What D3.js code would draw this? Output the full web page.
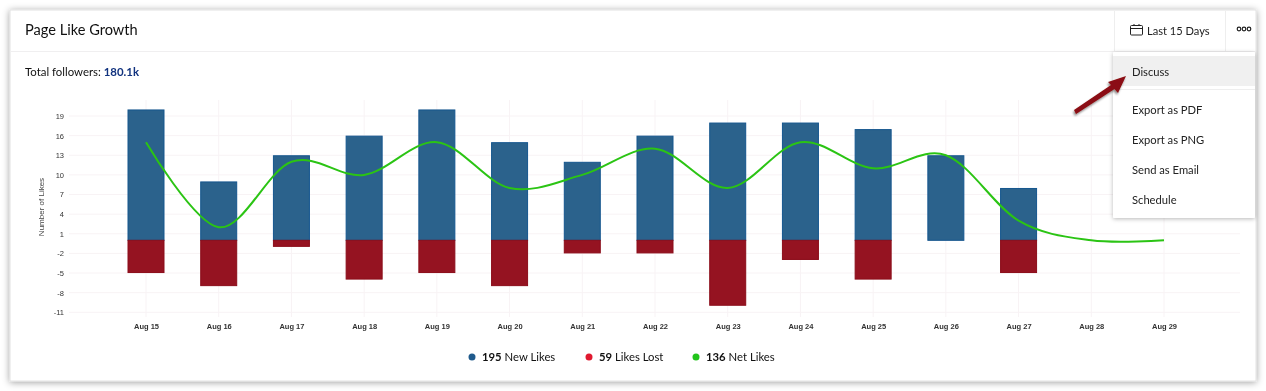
<!DOCTYPE html>
<html>
<head>
<meta charset="utf-8">
<script src="https://cdn.jsdelivr.net/npm/d3@7"></script>
<style>
  html, body { margin: 0; padding: 0; background: #fff; overflow: hidden; }
  svg { display: block; font-family: Lato, sans-serif; filter: blur(0.3px); }
  .y-axis text, .x-axis text { font-family: "Liberation Sans", Arial, sans-serif; fill: #333; }
  .x-axis text { font-weight: bold; }
</style>
</head>
<body>
<svg id="chart" width="1266" height="391"></svg>
<script>
// chart data
const days = ['Aug 15', 'Aug 16', 'Aug 17', 'Aug 18', 'Aug 19', 'Aug 20', 'Aug 21', 'Aug 22',
  'Aug 23', 'Aug 24', 'Aug 25', 'Aug 26', 'Aug 27', 'Aug 28', 'Aug 29'];
const newLikes = [20, 9, 13, 16, 20, 15, 12, 16, 18, 18, 17, 13, 8, 0, 0];
const likesLost = [5, 7, 1, 6, 5, 7, 2, 2, 10, 3, 6, 0, 5, 0, 0];
const netLikes = [15, 2, 12, 10, 15, 8, 10, 14, 8, 15, 11, 13, 3, 0, 0];
const yTicks = [19, 16, 13, 10, 7, 4, 1, -2, -5, -8, -11];
const legendItems = [
  { total: '195', label: 'New Likes', color: '#1f5a8c', x: 468 },
  { total: '59', label: 'Likes Lost', color: '#e0192f', x: 585 },
  { total: '136', label: 'Net Likes', color: '#22c41c', x: 692 }
];
const menuItems = ['Export as PDF', 'Export as PNG', 'Send as Email', 'Schedule'];

const svg = d3.select('#chart');
const defs = svg.append('defs');

// soft shadows for the card, menu and arrow
function addShadow(id, dx, dy, blur, opacity) {
  const f = defs.append('filter').attr('id', id)
    .attr('x', '-10%').attr('y', '-10%').attr('width', '120%').attr('height', '125%');
  f.append('feDropShadow').attr('dx', dx).attr('dy', dy)
    .attr('stdDeviation', blur).attr('flood-color', '#000').attr('flood-opacity', opacity);
}
addShadow('cardShadow', 0, 1, 3.5, 0.38);
addShadow('menuShadow', 0, 1, 2, 0.28);
addShadow('arrowShadow', -1, 2, 1.2, 0.45);

// card
svg.append('rect').attr('x', 10).attr('y', 10).attr('width', 1246).attr('height', 371)
  .attr('fill', '#fff').attr('stroke', '#e2e2e2').attr('filter', 'url(#cardShadow)');

// header
svg.append('line').attr('x1', 11).attr('x2', 1255).attr('y1', 51.5).attr('y2', 51.5).attr('stroke', '#f0eff0');
[1114.5, 1225.5].forEach(x => {
  svg.append('line').attr('x1', x).attr('x2', x).attr('y1', 11).attr('y2', 51).attr('stroke', '#eee');
});
svg.append('text').attr('x', 25).attr('y', 35).attr('font-size', 14.6).attr('fill', '#111').text('Page Like Growth');
svg.append('text').attr('x', 25).attr('y', 76).attr('font-size', 11.4).attr('fill', '#111')
  .text('Total followers: ')
  .append('tspan').attr('fill', '#12337f').attr('font-weight', 'bold').text('180.1k');

// scales
const x = d3.scalePoint().domain(days).range([146, 1164]);
const y = d3.scaleLinear().domain([19, -11]).range([116, 312.3]);
const barWidth = 37;

// grid
const grid = svg.append('g').attr('class', 'grid');
grid.selectAll('line.h').data(yTicks).enter().append('line').attr('class', 'h')
  .attr('x1', 69).attr('x2', 1240)
  .attr('y1', d => y(d)).attr('y2', d => y(d))
  .attr('stroke', '#f8f3f5');
grid.selectAll('line.v').data(days).enter().append('line').attr('class', 'v')
  .attr('x1', d => x(d)).attr('x2', d => x(d))
  .attr('y1', 100).attr('y2', 317)
  .attr('stroke', '#f8f3f5');

// axes
const yAxis = svg.append('g').attr('class', 'y-axis').attr('transform', 'translate(69,0)')
  .call(d3.axisLeft(y).tickValues(yTicks).tickFormat(String).tickSize(0).tickPadding(5));
yAxis.select('.domain').remove();
yAxis.selectAll('text').attr('font-size', 7.5);

const xAxis = svg.append('g').attr('class', 'x-axis').attr('transform', 'translate(0,317)')
  .call(d3.axisBottom(x).tickSize(0).tickPadding(7));
xAxis.select('.domain').remove();
xAxis.selectAll('text').attr('font-size', 7.5);

svg.append('text').attr('transform', 'translate(44,207) rotate(-90)')
  .attr('text-anchor', 'middle').attr('font-family', '"Liberation Sans", Arial, sans-serif')
  .attr('font-size', 8).attr('fill', '#444').text('Number of Likes');

// bars, stroke kept inside the value extent
svg.append('g').selectAll('rect').data(days.filter((d, i) => newLikes[i] > 0)).enter().append('rect')
  .attr('x', d => x(d) - barWidth / 2 + 0.5)
  .attr('width', barWidth - 1)
  .attr('y', d => y(newLikes[days.indexOf(d)]) + 0.5)
  .attr('height', d => y(0) - y(newLikes[days.indexOf(d)]) - 0.5)
  .attr('fill', '#2b628c').attr('stroke', '#15568e');

svg.append('g').selectAll('rect').data(days.filter((d, i) => likesLost[i] > 0)).enter().append('rect')
  .attr('x', d => x(d) - barWidth / 2 + 0.5)
  .attr('width', barWidth - 1)
  .attr('y', y(0))
  .attr('height', d => y(-likesLost[days.indexOf(d)]) - y(0) - 0.5)
  .attr('fill', '#951321').attr('stroke', '#8b0d1a');

// net likes line
const line = d3.line()
  .x((d, i) => x(days[i]))
  .y(d => y(d))
  .curve(d3.curveCardinal.tension(0));
svg.append('path').datum(netLikes)
  .attr('fill', 'none').attr('stroke', '#2bc414').attr('stroke-width', 2)
  .attr('d', line);

// legend
const legend = svg.append('g').selectAll('g').data(legendItems).enter().append('g')
  .attr('transform', d => `translate(${d.x},357)`);
legend.append('circle').attr('cx', 4).attr('r', 3.5).attr('fill', d => d.color);
const legendText = legend.append('text').attr('x', 14).attr('y', 4)
  .attr('font-size', 11.3).attr('fill', '#111');
legendText.append('tspan').attr('font-weight', 'bold').text(d => d.total);
legendText.append('tspan').text(d => ' ' + d.label);

// date range button
const cal = svg.append('g').attr('fill', 'none').attr('stroke', '#222').attr('stroke-width', 1);
cal.append('rect').attr('x', 1130.5).attr('y', 25.5).attr('width', 12).attr('height', 9.5).attr('rx', 1);
cal.append('line').attr('x1', 1130.5).attr('x2', 1142.5).attr('y1', 28.5).attr('y2', 28.5);
cal.append('line').attr('x1', 1134).attr('x2', 1134).attr('y1', 24).attr('y2', 26);
cal.append('line').attr('x1', 1139).attr('x2', 1139).attr('y1', 24).attr('y2', 26);
svg.append('text').attr('x', 1147).attr('y', 35).attr('font-size', 11.1).attr('fill', '#222').text('Last 15 Days');
[1239, 1244, 1249].forEach(cx => {
  svg.append('circle').attr('cx', cx).attr('cy', 29).attr('r', 1.8)
    .attr('fill', 'none').attr('stroke', '#222').attr('stroke-width', 1.2);
});

// dropdown menu
svg.append('rect').attr('x', 1113).attr('y', 52).attr('width', 142).attr('height', 166).attr('rx', 1)
  .attr('fill', '#fff').attr('filter', 'url(#menuShadow)');
svg.append('rect').attr('x', 1113).attr('y', 56).attr('width', 142).attr('height', 30).attr('fill', '#f0f0f0');
svg.append('line').attr('x1', 1113).attr('x2', 1255).attr('y1', 89.5).attr('y2', 89.5).attr('stroke', '#eee');
svg.append('text').attr('x', 1132).attr('y', 75.5).attr('font-size', 11.2).attr('fill', '#222').text('Discuss');
svg.append('g').selectAll('text').data(menuItems).enter().append('text')
  .attr('x', 1132).attr('y', (d, i) => 113.5 + i * 30)
  .attr('font-size', 11.2).attr('fill', '#222').text(d => d);

// callout arrow
svg.append('path')
  .attr('d', 'M1074,110 L1111,85 L1108,82 L1126,76 L1118,93 L1114.5,89 L1076,114 Z')
  .attr('fill', '#8b0f12').attr('filter', 'url(#arrowShadow)');
</script>
</body>
</html>
